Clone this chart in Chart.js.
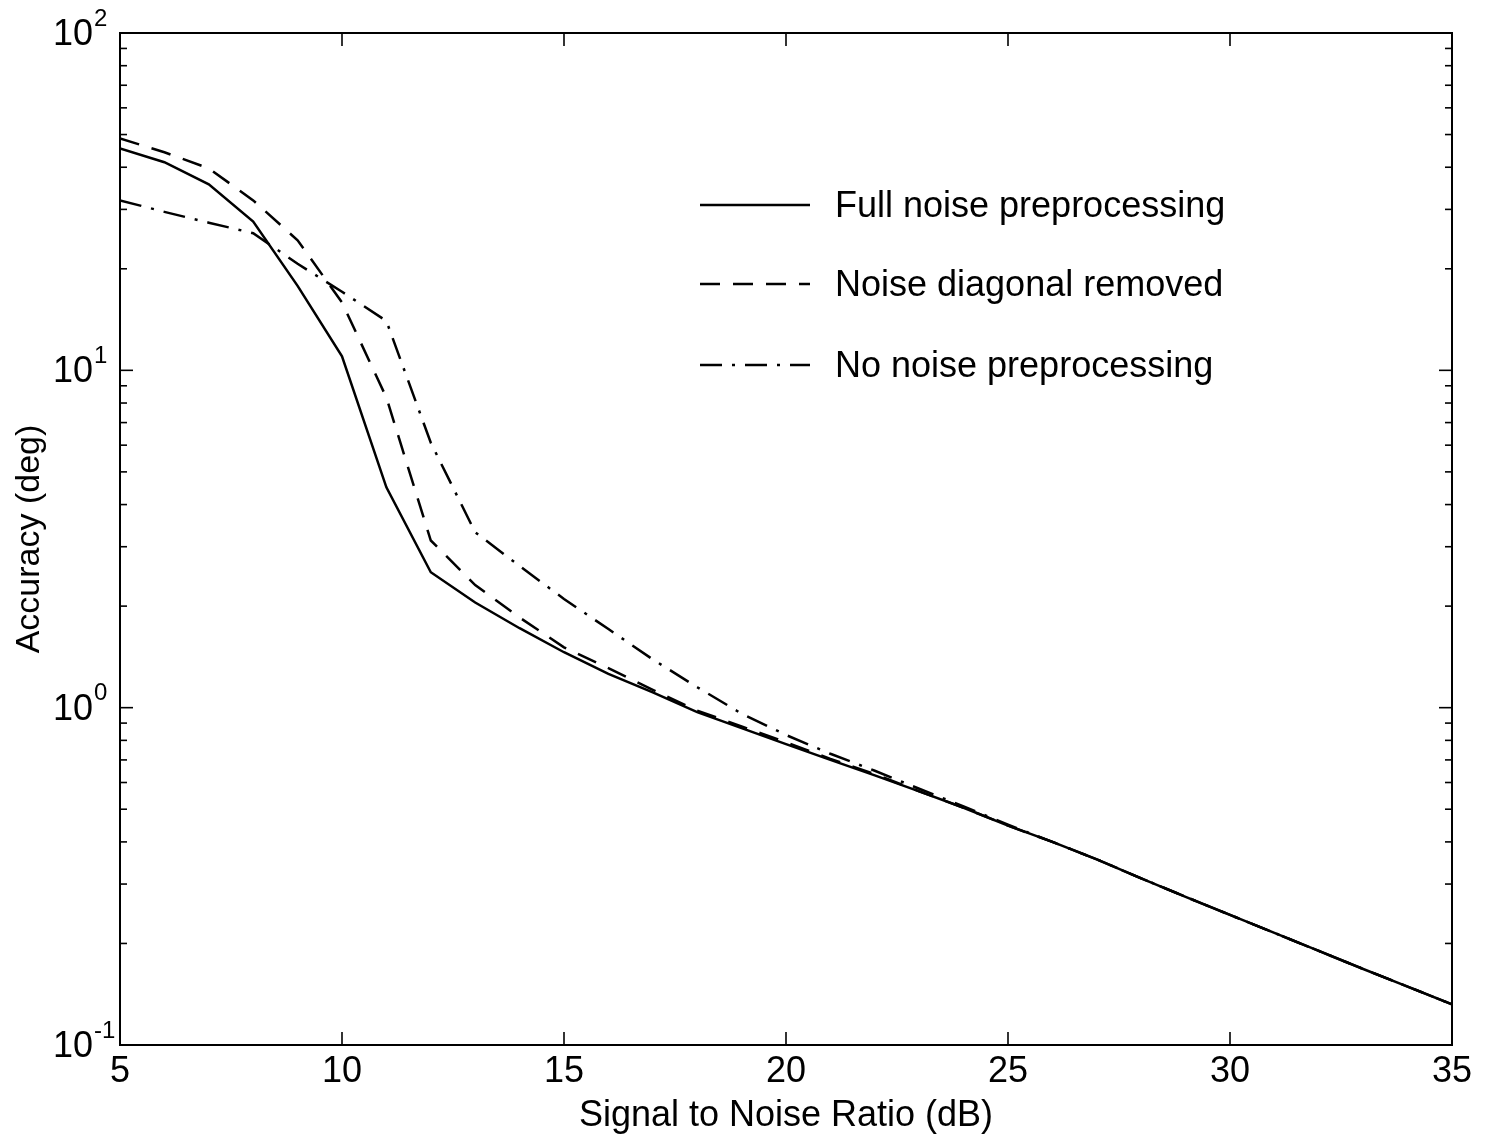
<!DOCTYPE html>
<html>
<head>
<meta charset="utf-8">
<script src="https://cdn.jsdelivr.net/npm/chart.js@4.4.1/dist/chart.umd.min.js"></script>
<style>
  html, body { margin: 0; padding: 0; background: #fff; }
  #c { display: block; }
</style>
</head>
<body>
<canvas id="c" width="1488" height="1134"></canvas>
<script>
// ---- data ----
const snr = [5,6,7,8,9,10,11,12,13,14,15,16,17,18,19,20,21,22,23,24,25,26,27,28,29,30,31,32,33,34,35];
const fullNoise = [45.5,41.4,35.6,27.6,17.8,11.0,4.5,2.52,2.05,1.72,1.46,1.26,1.11,0.97,0.87,0.78,0.70,0.63,0.565,0.505,0.447,0.40,0.355,0.312,0.275,0.243,0.215,0.19,0.168,0.149,0.132];
const diagRemoved = [48.7,44.3,39.7,31.9,24.3,15.9,8.3,3.13,2.31,1.85,1.51,1.31,1.13,0.98,0.88,0.79,0.705,0.635,0.565,0.505,0.447,0.40,0.355,0.312,0.275,0.243,0.215,0.19,0.168,0.149,0.132];
const noPreproc = [31.9,29.5,27.4,25.5,20.7,17.1,14.0,6.1,3.31,2.63,2.10,1.71,1.39,1.15,0.96,0.83,0.73,0.65,0.575,0.51,0.45,0.40,0.355,0.312,0.275,0.243,0.215,0.19,0.168,0.149,0.132];
const seriesLabels = ['Full noise preprocessing','Noise diagonal removed','No noise preprocessing'];
const xTickValues = [5,10,15,20,25,30,35];
const yTickExponents = [-1,0,1,2];
const xTitle = 'Signal to Noise Ratio (dB)';
const yTitle = 'Accuracy (deg)';

const FONT = '"Liberation Sans", Arial, Helvetica, sans-serif';

function pts(vals){ return snr.map((x,i)=>({x:x, y:vals[i]})); }

const framePlugin = {
  id: 'framePlugin',
  afterDatasetsDraw(chart) {
    const {ctx, chartArea:a, scales:{x, y}} = chart;
    const line = (x1,y1,x2,y2)=>{ ctx.beginPath(); ctx.moveTo(x1,y1); ctx.lineTo(x2,y2); ctx.stroke(); };
    ctx.save();
    ctx.strokeStyle = '#000';
    ctx.lineWidth = 2;
    ctx.setLineDash([]);
    ctx.strokeRect(a.left, a.top, a.right - a.left, a.bottom - a.top);
    ctx.lineWidth = 1.6;
    // x ticks (inward, top and bottom)
    xTickValues.forEach(v => {
      const px = x.getPixelForValue(v);
      line(px, a.bottom, px, a.bottom - 13);
      line(px, a.top, px, a.top + 13);
    });
    // y ticks, major + minor (inward, both sides)
    const yMin = y.min, yMax = y.max;
    for (let e = yTickExponents[0]; e <= yTickExponents[yTickExponents.length-1]; e++) {
      for (let m = 1; m <= 9; m++) {
        const v = m * Math.pow(10, e);
        if (v > yMax * 1.0001 || v < yMin * 0.9999) continue;
        const py = y.getPixelForValue(v);
        const len = (m === 1) ? 13 : 7;
        line(a.left, py, a.left + len, py);
        line(a.right, py, a.right - len, py);
      }
    }
    // y tick labels with superscript exponents
    ctx.fillStyle = '#000';
    yTickExponents.forEach(e => {
      const py = y.getPixelForValue(Math.pow(10, e));
      ctx.font = '36px ' + FONT;
      ctx.textAlign = 'right';
      ctx.textBaseline = 'middle';
      ctx.fillText('10', 93, py + 2);
      ctx.font = '24px ' + FONT;
      ctx.textAlign = 'left';
      ctx.fillText(String(e), 94, py - 14);
    });
    // legend inside axes
    const rows = [205, 284, 365];
    chart.data.datasets.forEach((ds, i) => {
      const ry = rows[i];
      ctx.lineWidth = ds.borderWidth;
      ctx.setLineDash(ds.borderDash || []);
      line(700, ry, 810, ry);
      ctx.setLineDash([]);
      ctx.font = '36px ' + FONT;
      ctx.textAlign = 'left';
      ctx.textBaseline = 'middle';
      ctx.fillText(ds.label, 835, ry + 2);
    });
    ctx.restore();
  }
};

new Chart(document.getElementById('c'), {
  type: 'line',
  data: {
    datasets: [
      { label: seriesLabels[0], data: pts(fullNoise), borderColor: '#000', borderWidth: 2.5, borderDash: [], pointRadius: 0, tension: 0, fill: false },
      { label: seriesLabels[1], data: pts(diagRemoved), borderColor: '#000', borderWidth: 2.5, borderDash: [20, 13], pointRadius: 0, tension: 0, fill: false },
      { label: seriesLabels[2], data: pts(noPreproc), borderColor: '#000', borderWidth: 2.5, borderDash: [22, 10, 3, 10], pointRadius: 0, tension: 0, fill: false }
    ]
  },
  options: {
    responsive: false,
    animation: false,
    layout: { padding: { top: 33, right: 36, left: 0, bottom: 0 } },
    plugins: { legend: { display: false }, tooltip: { enabled: false } },
    scales: {
      x: {
        type: 'linear', min: 5, max: 35,
        grid: { display: false, drawTicks: false },
        border: { display: false },
        ticks: { stepSize: 5, color: '#000', padding: 5, maxRotation: 0, font: { family: FONT, size: 36 } },
        title: { display: true, text: xTitle, color: '#000', font: { family: FONT, size: 36, lineHeight: 1.0 }, padding: { top: 0, bottom: 0 } },
        afterFit(s) { s.height = 89; }
      },
      y: {
        type: 'logarithmic', min: 0.1, max: 100,
        grid: { display: false, drawTicks: false },
        border: { display: false },
        ticks: { display: false },
        title: { display: true, text: yTitle, color: '#000', font: { family: FONT, size: 34, lineHeight: 1.0 }, padding: { top: 13, bottom: 0 } },
        afterFit(s) { s.width = 120; }
      }
    }
  },
  plugins: [framePlugin]
});
</script>
</body>
</html>
